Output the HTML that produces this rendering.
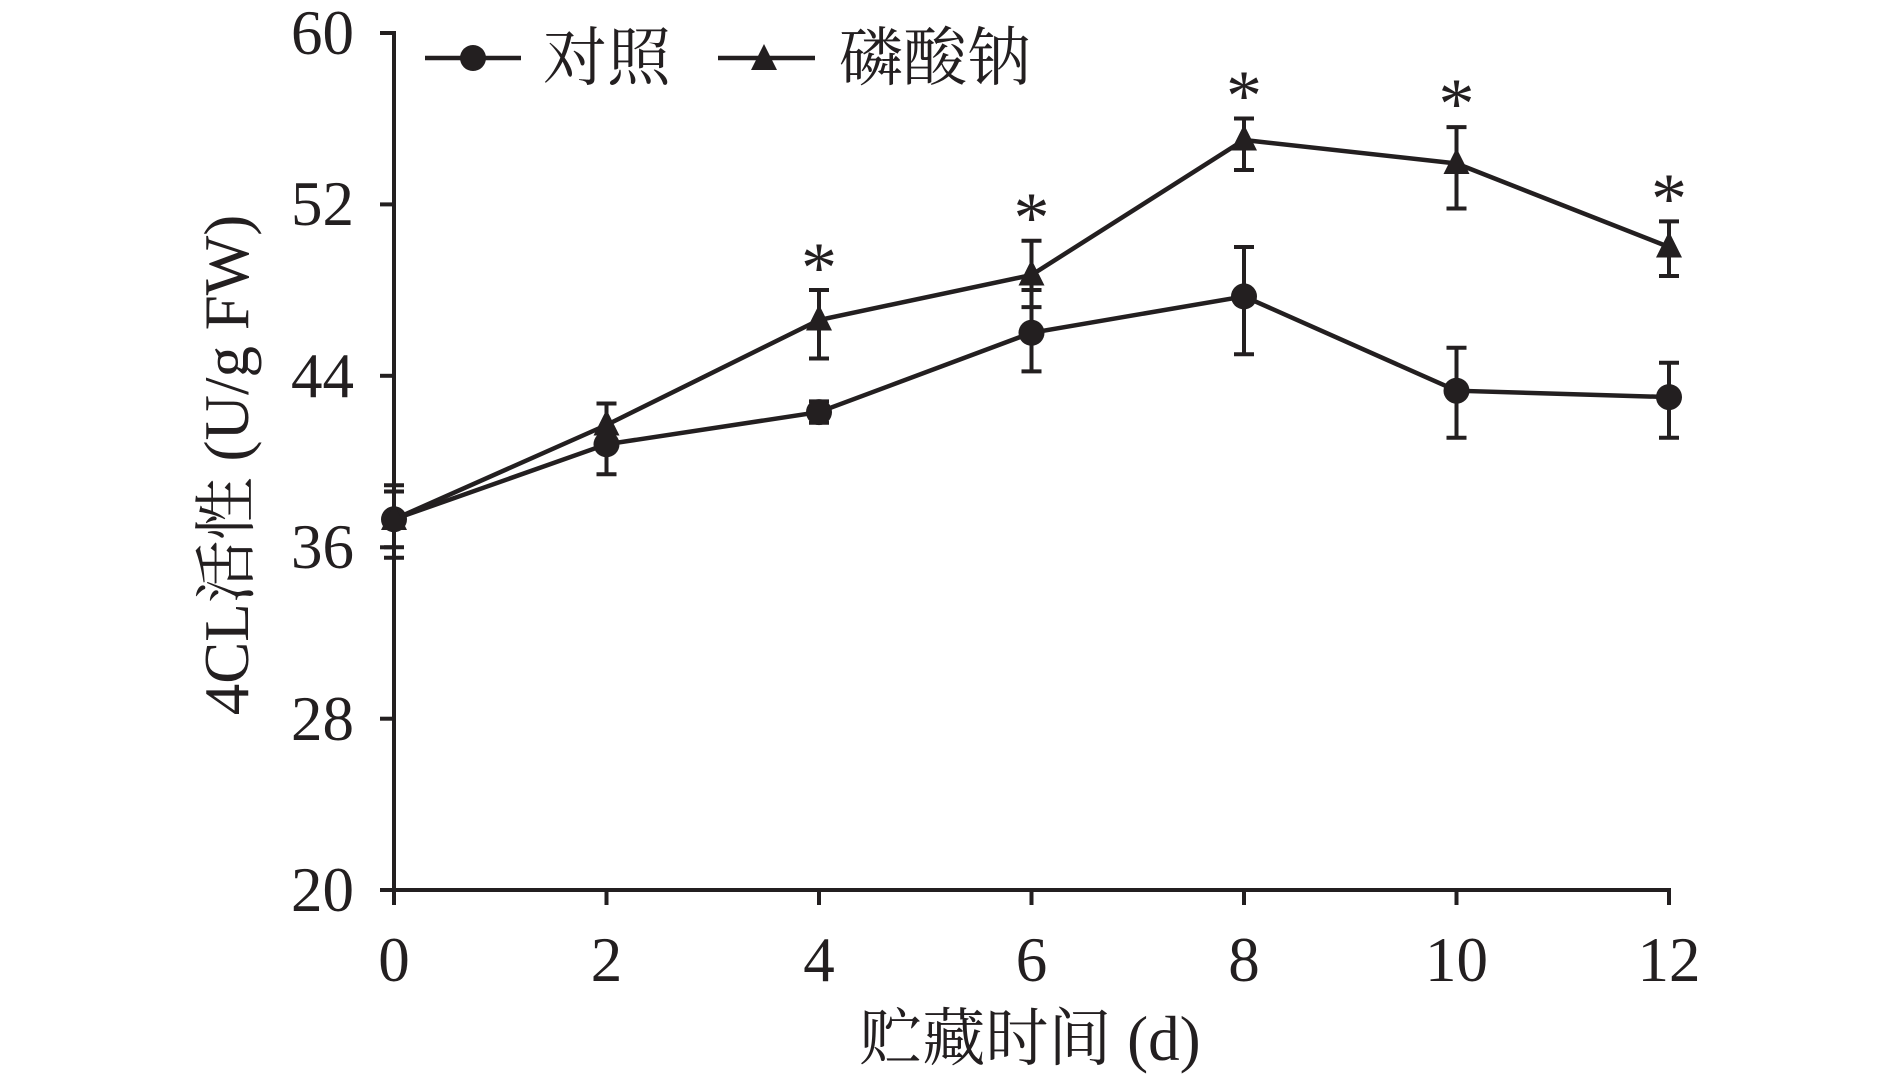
<!DOCTYPE html>
<html><head><meta charset="utf-8"><style>html,body{margin:0;padding:0;background:#fff}svg{display:block}</style></head>
<body>
<svg width="1890" height="1078" viewBox="0 0 1890 1078" xmlns="http://www.w3.org/2000/svg" font-family="'Liberation Serif','Noto Serif CJK SC',serif" fill="#231f20">
<g stroke="#231f20" stroke-width="4" fill="none">
<line x1="394" y1="31" x2="394" y2="892"/>
<line x1="392" y1="890" x2="1671" y2="890"/>
<line x1="380" y1="33" x2="394" y2="33"/>
<line x1="380" y1="204.4" x2="394" y2="204.4"/>
<line x1="380" y1="375.8" x2="394" y2="375.8"/>
<line x1="380" y1="547.3" x2="394" y2="547.3"/>
<line x1="380" y1="718.7" x2="394" y2="718.7"/>
<line x1="380" y1="890" x2="394" y2="890"/>
<line x1="394" y1="890" x2="394" y2="905"/>
<line x1="606.5" y1="890" x2="606.5" y2="905"/>
<line x1="819" y1="890" x2="819" y2="905"/>
<line x1="1031.5" y1="890" x2="1031.5" y2="905"/>
<line x1="1244" y1="890" x2="1244" y2="905"/>
<line x1="1456.5" y1="890" x2="1456.5" y2="905"/>
<line x1="1669" y1="890" x2="1669" y2="905"/>
</g>
<g font-size="63" text-anchor="end">
<text x="354" y="54">60</text>
<text x="354" y="225">52</text>
<text x="354" y="397">44</text>
<text x="354" y="568">36</text>
<text x="354" y="740">28</text>
<text x="354" y="911">20</text>
</g>
<g font-size="63" text-anchor="middle">
<text x="394" y="981">0</text>
<text x="606.5" y="981">2</text>
<text x="819" y="981">4</text>
<text x="1031.5" y="981">6</text>
<text x="1244" y="981">8</text>
<text x="1456.5" y="981">10</text>
<text x="1669" y="981">12</text>
<text x="1030" y="1060">贮藏时间 (d)</text>
<text transform="translate(248,465) rotate(-90)">4CL活性 (U/g FW)</text>
</g>
<g stroke="#231f20" stroke-width="4" fill="none">
<path d="M394 491.5V547.3M384 491.5H404M384 547.3H404"/>
<path d="M606.5 444V474.2M596.5 474.2H616.5"/>
<path d="M819 401.4V422.8M809 401.4H829M809 422.8H829"/>
<path d="M1031.5 290V371.4M1021.5 290H1041.5M1021.5 371.4H1041.5"/>
<path d="M1244 247V354.3M1234 247H1254M1234 354.3H1254"/>
<path d="M1456.5 347.8V437.8M1446.5 347.8H1466.5M1446.5 437.8H1466.5"/>
<path d="M1669 362.8V437.8M1659 362.8H1679M1659 437.8H1679"/>
<path d="M394 485.2V557.8M384 485.2H404M384 557.8H404"/>
<path d="M606.5 403.5V446.4M596.5 403.5H616.5M596.5 446.4H616.5"/>
<path d="M819 290V358.5M809 290H829M809 358.5H829"/>
<path d="M1031.5 240.7V307.1M1021.5 240.7H1041.5M1021.5 307.1H1041.5"/>
<path d="M1244 118.5V170M1234 118.5H1254M1234 170H1254"/>
<path d="M1456.5 127.1V208.5M1446.5 127.1H1466.5M1446.5 208.5H1466.5"/>
<path d="M1669 221.4V276M1659 221.4H1679M1659 276H1679"/>
</g>
<g stroke="#231f20" stroke-width="4.5" fill="none">
<polyline points="394,519.3 606.5,444.3 819,412.1 1031.5,332.8 1244,296.4 1456.5,390.7 1669,397.1"/>
<polyline points="394,519.3 606.5,425 819,320 1031.5,275 1244,140 1456.5,163.5 1669,247"/>
<line x1="425" y1="58" x2="521" y2="58"/>
<line x1="718" y1="58" x2="815" y2="58"/>
</g>
<g>
<circle cx="394" cy="519.3" r="13"/><circle cx="606.5" cy="444.3" r="13"/><circle cx="819" cy="412.1" r="13"/><circle cx="1031.5" cy="332.8" r="13"/><circle cx="1244" cy="296.4" r="13"/><circle cx="1456.5" cy="390.7" r="13"/><circle cx="1669" cy="397.1" r="13"/>
<circle cx="473" cy="58" r="13"/>
<path d="M394 504l13 26h-26z"/>
<path d="M606.5 409.5l13 26h-26z"/>
<path d="M819 304.5l13 26h-26z"/>
<path d="M1031.5 259.5l13 26h-26z"/>
<path d="M1244 124.5l13 26h-26z"/>
<path d="M1456.5 148l13 26h-26z"/>
<path d="M1669 231.5l13 26h-26z"/>
<path d="M764 44l13 26h-26z"/>
</g>
<g font-size="72" text-anchor="middle">
<text x="819" y="292">*</text>
<text x="1031.5" y="242">*</text>
<text x="1244" y="120">*</text>
<text x="1456.5" y="128">*</text>
<text x="1669" y="223">*</text>
</g>
<g font-size="64">
<text x="543" y="80">对照</text>
<text x="839" y="80">磷酸钠</text>
</g>
</svg>
</body></html>
